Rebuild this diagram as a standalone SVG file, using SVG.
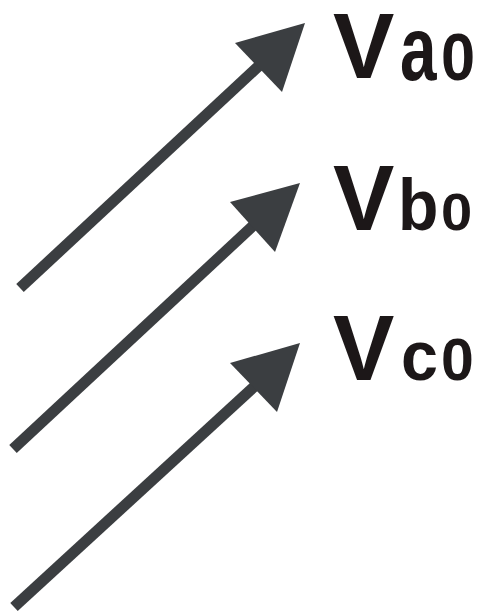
<svg xmlns="http://www.w3.org/2000/svg" width="481" height="616" viewBox="0 0 481 616">
<style>
.shaft{stroke:#3b3e41;stroke-width:11;stroke-linecap:butt;fill:none}
.head{fill:#3b3e41}
.lbl{font-family:"Liberation Sans",Arial,sans-serif;font-weight:bold;fill:#1c1718}
</style>
<rect width="481" height="616" fill="#ffffff"/>
<g id="connectors">
<line class="shaft" x1="20" y1="288" x2="262" y2="63"/>
<polygon class="head" points="305,23 235,43 282,92"/>
<line class="shaft" x1="13" y1="449" x2="256" y2="223"/>
<polygon class="head" points="300,183 230,202 275,252"/>
<line class="shaft" x1="14" y1="607" x2="257" y2="384"/>
<polygon class="head" points="300,343 230,363 277,412"/>
</g>
<g id="label-va0">
<text class="lbl" x="333" y="78" font-size="92">V</text>
<text class="lbl" font-size="90" transform="translate(400,80) scale(0.73,1)">a</text>
<text class="lbl" font-size="66" transform="translate(441,80) scale(0.93,1)">0</text>
</g>
<g id="label-vb0">
<text class="lbl" x="333" y="230" font-size="92">V</text>
<text class="lbl" font-size="72" transform="translate(398,230) scale(0.92,1)">b</text>
<text class="lbl" font-size="51" transform="translate(441,230) scale(1.1,1)">0</text>
</g>
<g id="label-vc0">
<text class="lbl" x="333" y="380" font-size="92">V</text>
<text class="lbl" font-size="70" transform="translate(401,380) scale(0.95,1)">c</text>
<text class="lbl" font-size="59" transform="translate(441,380) scale(1,1)">0</text>
</g>
</svg>
